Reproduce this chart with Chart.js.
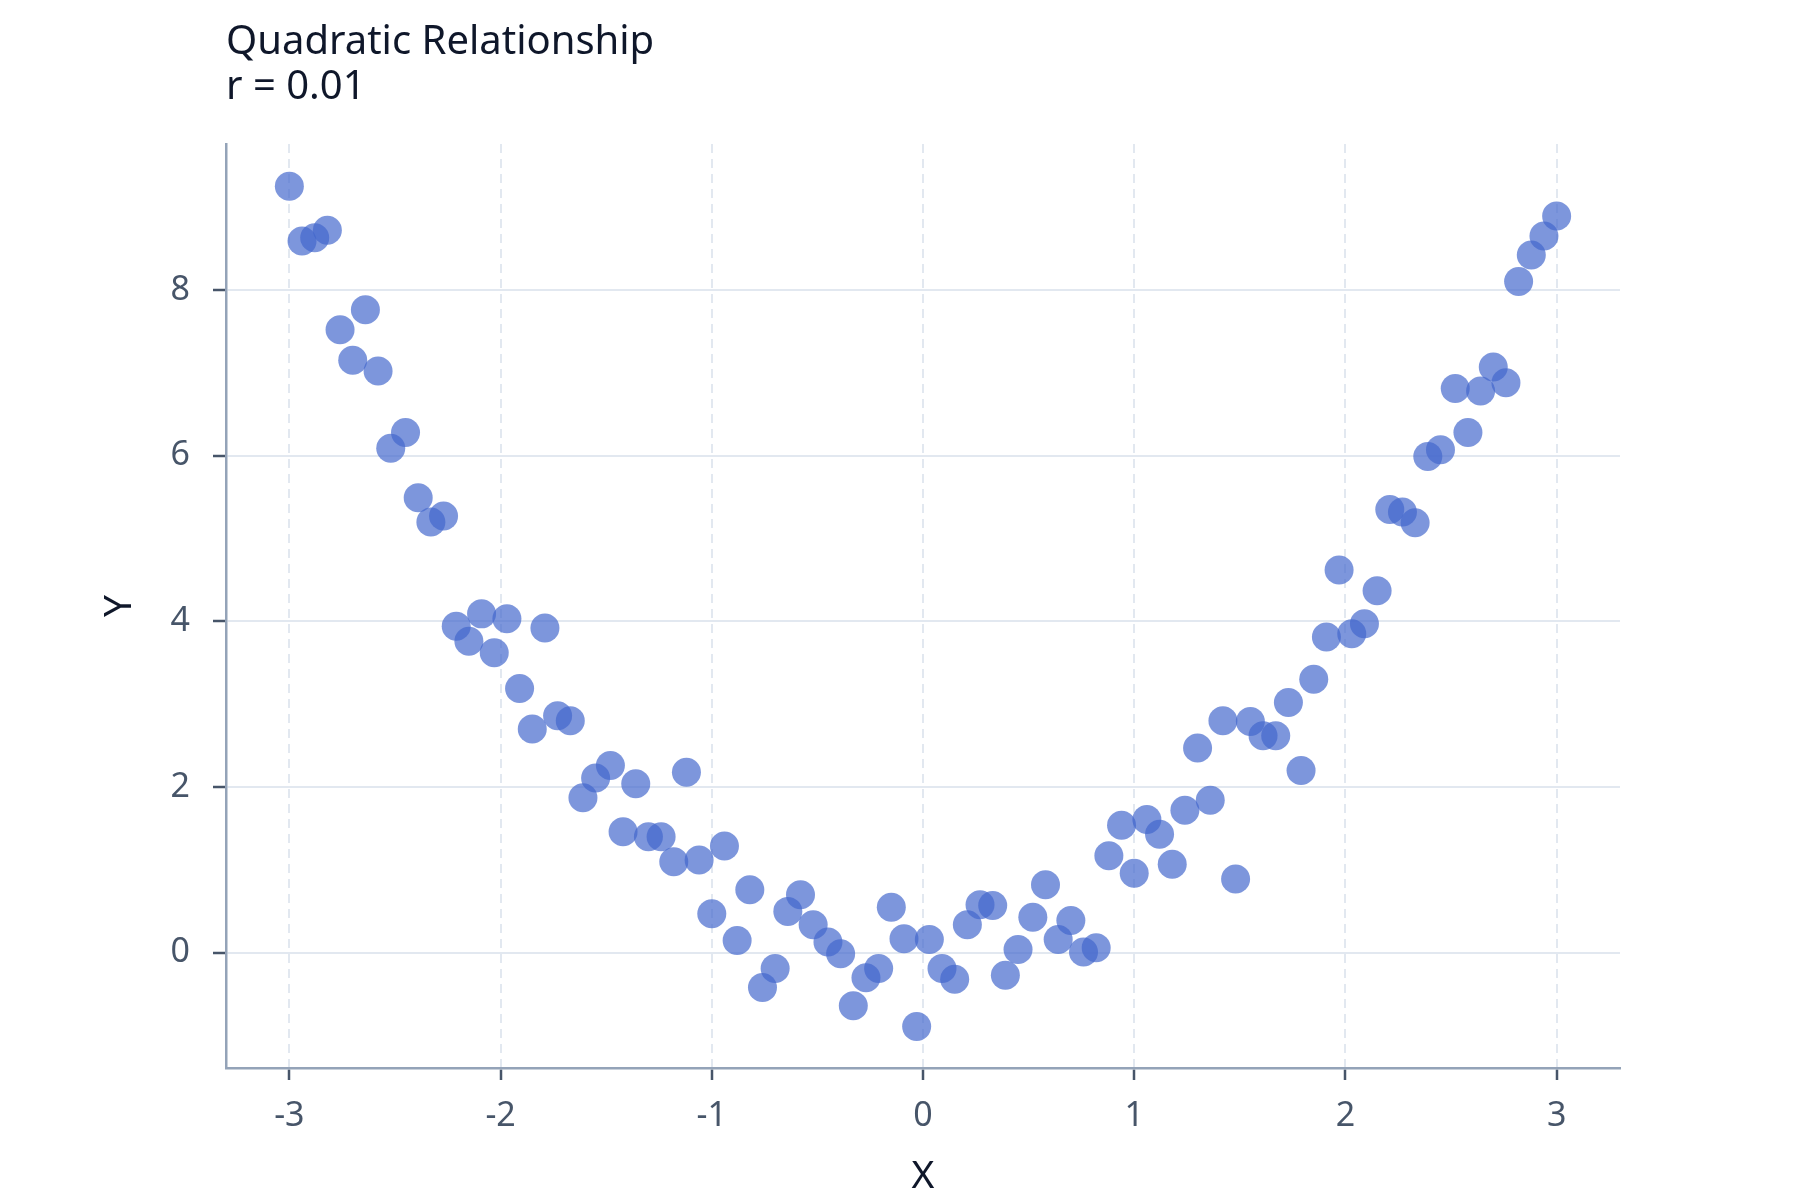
<!DOCTYPE html>
<html>
<head>
<meta charset="utf-8">
<script src="https://cdn.jsdelivr.net/npm/chart.js@4"></script>
<style>
  html, body { margin: 0; padding: 0; background: #ffffff; }
  #wrap { width: 1800px; height: 1200px; }
</style>
</head>
<body>
<div id="wrap"><canvas id="chart" width="1800" height="1200"></canvas></div>
<script>
/* ── Data ───────────────────────────────────────────────────────────────────── */
const X_VALUES = [
  -3.00, -2.94, -2.88, -2.82, -2.76, -2.70, -2.64, -2.58, -2.52, -2.45,
  -2.39, -2.33, -2.27, -2.21, -2.15, -2.09, -2.03, -1.97, -1.91, -1.85,
  -1.79, -1.73, -1.67, -1.61, -1.55, -1.48, -1.42, -1.36, -1.30, -1.24,
  -1.18, -1.12, -1.06, -1.00, -0.94, -0.88, -0.82, -0.76, -0.70, -0.64,
  -0.58, -0.52, -0.45, -0.39, -0.33, -0.27, -0.21, -0.15, -0.09, -0.03,
   0.03,  0.09,  0.15,  0.21,  0.27,  0.33,  0.39,  0.45,  0.52,  0.58,
   0.64,  0.70,  0.76,  0.82,  0.88,  0.94,  1.00,  1.06,  1.12,  1.18,
   1.24,  1.30,  1.36,  1.42,  1.48,  1.55,  1.61,  1.67,  1.73,  1.79,
   1.85,  1.91,  1.97,  2.03,  2.09,  2.15,  2.21,  2.27,  2.33,  2.39,
   2.45,  2.52,  2.58,  2.64,  2.70,  2.76,  2.82,  2.88,  2.94,  3.00,
];

const Y_VALUES = [
   9.25,  8.59,  8.63,  8.72,  7.52,  7.15,  7.76,  7.02,  6.09,  6.28,
   5.49,  5.20,  5.27,  3.94,  3.76,  4.09,  3.62,  4.03,  3.19,  2.70,
   3.92,  2.86,  2.80,  1.87,  2.11,  2.26,  1.46,  2.04,  1.40,  1.40,
   1.10,  2.18,  1.12,  0.47,  1.29,  0.15,  0.76, -0.42, -0.19,  0.50,
   0.70,  0.34,  0.13, -0.01, -0.64, -0.30, -0.19,  0.55,  0.17, -0.89,
   0.16, -0.19, -0.32,  0.34,  0.58,  0.57, -0.27,  0.04,  0.43,  0.82,
   0.16,  0.39,  0.01,  0.06,  1.17,  1.54,  0.96,  1.61,  1.43,  1.07,
   1.72,  2.47,  1.84,  2.80,  0.89,  2.79,  2.62,  2.62,  3.02,  2.20,
   3.30,  3.81,  4.62,  3.85,  3.97,  4.37,  5.35,  5.32,  5.19,  5.99,
   6.07,  6.81,  6.28,  6.78,  7.07,  6.88,  8.10,  8.42,  8.65,  8.89,
];

const X_TICKS = [-3, -2, -1, 0, 1, 2, 3];
const Y_TICKS = [0, 2, 4, 6, 8];

const TITLE_LINES = ["Quadratic Relationship", "r = 0.01"];

/* ── Style ──────────────────────────────────────────────────────────────────── */
const FONT = "'Noto Sans', 'Open Sans', sans-serif";
const POINT_COLOR = "rgba(67,103,204,0.69)";
const GRID_COLOR  = "#e2e8f0";
const AXIS_COLOR  = "#94a3b8";
const TICK_COLOR  = "#475569";
const TEXT_DARK   = "#0f172a";

const points = X_VALUES.map((x, i) => ({ x, y: Y_VALUES[i] }));

function fixTicks(values) {
  return (scale) => { scale.ticks = values.map((v) => ({ value: v })); };
}

/* ── Chart ──────────────────────────────────────────────────────────────────── */
new Chart(document.getElementById("chart").getContext("2d"), {
  type: "scatter",
  data: {
    datasets: [{
      data: points,
      backgroundColor: POINT_COLOR,
      borderWidth: 0,
      pointRadius: 14.5,
      pointHoverRadius: 14.5,
    }],
  },
  options: {
    responsive: false,
    animation: false,
    devicePixelRatio: 1,
    layout: { padding: { left: 0, right: 180, top: 0, bottom: 0 } },
    plugins: {
      legend: { display: false },
      tooltip: { enabled: false },
      title: {
        display: true,
        text: TITLE_LINES,
        align: "start",
        fullSize: false,
        color: TEXT_DARK,
        font: { family: FONT, size: 40, weight: "normal", lineHeight: 1.125 },
        padding: { top: 20, bottom: 34 },
      },
    },
    scales: {
      x: {
        type: "linear",
        min: -3.3,
        max: 3.3,
        afterBuildTicks: fixTicks(X_TICKS),
        afterFit: (s) => { s.height = 132; },
        grid: {
          color: GRID_COLOR,
          lineWidth: 2,
          tickColor: TICK_COLOR,
          tickLength: 12,
          tickWidth: 2.5,
          tickBorderDash: [],
        },
        border: { color: AXIS_COLOR, width: 2.5, dash: [9, 6] },
        ticks: {
          color: TICK_COLOR,
          padding: 16,
          font: { family: FONT, size: 34 },
          callback: (v) => String(v),
        },
        title: {
          display: true,
          text: "X",
          color: TEXT_DARK,
          font: { family: FONT, size: 39 },
          padding: { top: 0, bottom: 0 },
        },
      },
      y: {
        type: "linear",
        min: -1.39,
        max: 9.76,
        afterBuildTicks: fixTicks(Y_TICKS),
        afterFit: (s) => { s.width = 226; },
        grid: {
          color: GRID_COLOR,
          lineWidth: 2,
          tickColor: TICK_COLOR,
          tickLength: 13,
          tickWidth: 2.5,
          tickBorderDash: [],
        },
        border: { color: AXIS_COLOR, width: 2.5 },
        ticks: {
          color: TICK_COLOR,
          padding: 23,
          font: { family: FONT, size: 34 },
          callback: (v) => String(v),
        },
        title: {
          display: true,
          text: "Y",
          color: TEXT_DARK,
          font: { family: FONT, size: 39 },
          padding: { top: 96, bottom: 0 },
        },
      },
    },
  },
});
</script>
</body>
</html>
